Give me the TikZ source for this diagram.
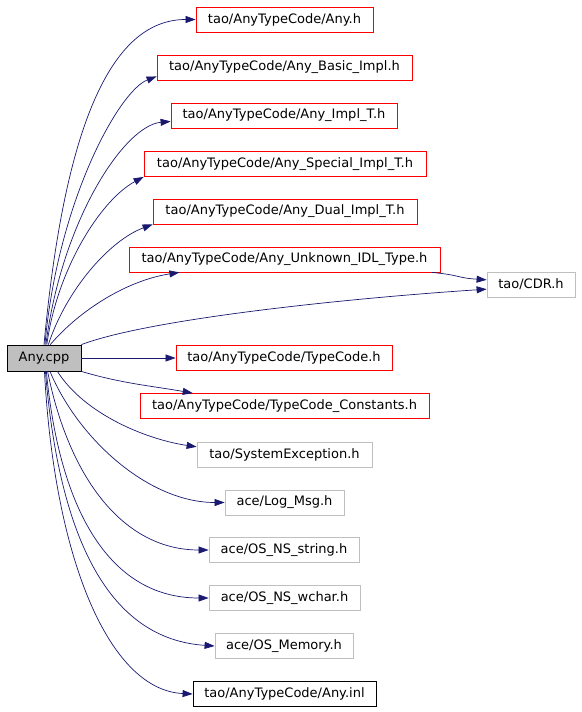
\documentclass[tikz,border=0pt]{standalone}
\usepackage{fontspec}
\setmainfont{DejaVu Sans}
\usetikzlibrary{arrows.meta}
\definecolor{edgeblue}{RGB}{25,25,112}
\definecolor{boxgray}{RGB}{191,191,191}

\begin{document}
\begin{tikzpicture}[x=1pt,y=-1pt,
	hdr/.style={draw,line width=0.8pt,minimum height=25pt,inner sep=0pt,font=\fontsize{13}{15}\selectfont},
	redhdr/.style={hdr,draw=red},
	grayhdr/.style={hdr,draw=boxgray},
	dep/.style={draw=edgeblue,line width=0.7pt,-{Triangle[length=10pt,width=7pt]}}]
	\useasboundingbox (0,0) rectangle (581,712);
	% source file
	\node [hdr,fill=boxgray,minimum width=74pt,minimum height=26pt] (cpp) at (44,358) {Any.cpp};
	% included headers
	\node [redhdr,minimum width=177pt] (anyh) at (284.5,19.5) {tao/AnyTypeCode/Any.h};
	\node [redhdr,minimum width=255pt] (basic) at (284.5,67.5) {tao/AnyTypeCode/Any\_Basic\_Impl.h};
	\node [redhdr,minimum width=226pt] (implt) at (284,115.5) {tao/AnyTypeCode/Any\_Impl\_T.h};
	\node [redhdr,minimum width=282pt] (special) at (285,164) {tao/AnyTypeCode/Any\_Special\_Impl\_T.h};
	\node [redhdr,minimum width=264pt] (dual) at (285,211.5) {tao/AnyTypeCode/Any\_Dual\_Impl\_T.h};
	\node [redhdr,minimum width=311pt] (unknown) at (284.5,259.5) {tao/AnyTypeCode/Any\_Unknown\_IDL\_Type.h};
	\node [grayhdr,minimum width=88pt] (cdr) at (531,284.5) {tao/CDR.h};
	\node [redhdr,minimum width=216pt] (tc) at (284,358) {tao/AnyTypeCode/TypeCode.h};
	\node [redhdr,minimum width=289pt] (tcconst) at (284.5,406) {tao/AnyTypeCode/TypeCode\_Constants.h};
	\node [grayhdr,minimum width=175pt] (sysexc) at (284.5,454.5) {tao/SystemException.h};
	\node [grayhdr,minimum width=119pt] (logmsg) at (284.5,502.5) {ace/Log\_Msg.h};
	\node [grayhdr,minimum width=150pt] (osstr) at (284,550) {ace/OS\_NS\_string.h};
	\node [grayhdr,minimum width=151pt] (oswchar) at (284.5,598) {ace/OS\_NS\_wchar.h};
	\node [grayhdr,minimum width=138pt] (osmem) at (284,646) {ace/OS\_Memory.h};
	\node [hdr,minimum width=183pt] (anyinl) at (284.5,694) {tao/AnyTypeCode/Any.inl};

	% dependencies
	\draw [dep] (cpp.north) .. controls +(20,-215) and +(-86,0) .. (anyh.west);
	\draw [dep] (cpp.86) .. controls +(13,-145) and +(-37,14) .. (basic.184);
	\draw [dep] (cpp.82) .. controls +(16,-125) and +(-46,4) .. (implt.183);
	\draw [dep] (cpp.78) .. controls +(10,-75) and +(-43,23) .. (special.south west);
	\draw [dep] (cpp.72) .. controls +(18,-55) and +(-43,16) .. (dual.south west);
	\draw [dep] (cpp.65) .. controls +(30,-35) and +(-52,8) .. (unknown.187);
	\draw [dep] (cpp.north east) .. controls +(69,-26) and +(-137,9) .. (cdr.186);
	\draw [dep] (unknown.355) .. controls +(30,3) and +(-30,-2) .. (cdr.174);
	\draw [dep] (cpp.east) -- (tc.west);
	\draw [dep] (cpp.south east) .. controls +(40,12) and +(-40,-7) .. (tcconst.172);
	\draw [dep] (cpp.-45) .. controls +(28,44) and +(-48,-7) .. (sysexc.175);
	\draw [dep] (cpp.-66) .. controls +(29,69) and +(-75,0) .. (logmsg.west);
	\draw [dep] (cpp.-75) .. controls +(22,109) and +(-84,0) .. (osstr.west);
	\draw [dep] (cpp.-80) .. controls +(13,139) and +(-99,0) .. (oswchar.west);
	\draw [dep] (cpp.-84) .. controls +(14,169) and +(-105,-7) .. (osmem.west);
	\draw [dep] (cpp.-88) .. controls +(10,189) and +(-83,-4) .. (anyinl.west);
\end{tikzpicture}
\end{document}
